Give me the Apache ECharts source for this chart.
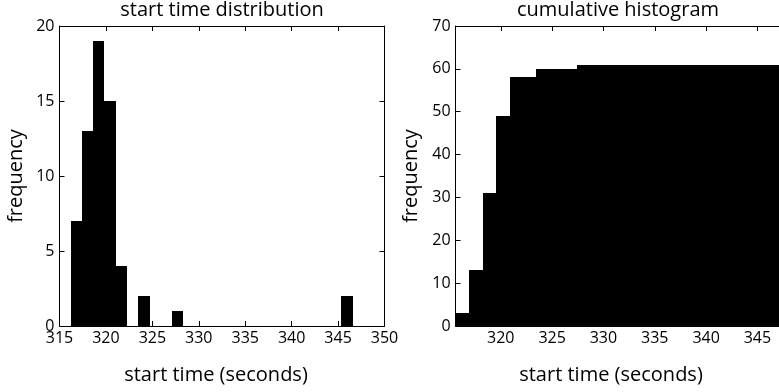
<!DOCTYPE html>
<html>
<head>
<meta charset="utf-8">
<script src="https://cdn.jsdelivr.net/npm/echarts@6/dist/echarts.min.js"></script>
<style>
  html, body { margin: 0; padding: 0; background: #fff; }
  #chart { width: 779px; height: 392px; }
</style>
</head>
<body>
<div id="chart"></div>
<script>
// Start-time histogram: 25 equal-width bins
const distBinStart = 316.2;
const distBinWidth = 1.215;
const distCounts = [7, 13, 19, 15, 4, 0, 2, 0, 0, 1, 0, 0, 0, 0, 0, 0, 0, 0, 0, 0, 0, 0, 0, 0, 2];

// Cumulative histogram: 24 equal-width bins
const cumBinStart = 315.6;
const cumBinWidth = 1.3125;
const cumCounts = [3, 13, 31, 49, 58, 58, 60, 60, 60, 61, 61, 61, 61, 61, 61, 61, 61, 61, 61, 61, 61, 61, 61, 61];

// Axis ranges
const distXRange = [315, 350];
const distYRange = [0, 20];
const cumXRange = [315.6, 347.1];
const cumYRange = [0, 70];

const titles = ['start time distribution', 'cumulative histogram'];
const xLabel = 'start time (seconds)';
const yLabel = 'frequency';

const FONT = '"Open Sans", "DejaVu Sans", sans-serif';

function toBins(start, width, counts) {
  return counts.map((c, i) => [start + i * width, start + (i + 1) * width, c]);
}

// Snap bin edges to whole pixels so neighbouring bars join without seams
function renderBin(params, api) {
  const lo = api.coord([api.value(0), 0]);
  const hi = api.coord([api.value(1), api.value(2)]);
  const x0 = Math.round(lo[0]), x1 = Math.round(hi[0]);
  const y0 = Math.round(lo[1]), y1 = Math.round(hi[1]);
  return {
    type: 'rect',
    shape: { x: x0, y: y1, width: x1 - x0, height: y0 - y1 },
    style: { fill: '#000' }
  };
}

const line = { show: true, onZero: false, lineStyle: { color: '#000', width: 1 } };
const tick = { show: true, inside: true, length: 5, lineStyle: { color: '#000', width: 1 } };
const label = { show: true, color: '#000', fontSize: 16, fontFamily: FONT };

function xAxisPair(grid, range, interval) {
  const base = { type: 'value', gridIndex: grid, min: range[0], max: range[1],
    axisLine: line, axisTick: tick, splitLine: { show: false } };
  if (interval) base.interval = interval;
  return [
    Object.assign({}, base, { position: 'bottom',
      axisLabel: Object.assign({}, label, { margin: 4, showMinLabel: !!interval, showMaxLabel: !!interval }) }),
    Object.assign({}, base, { position: 'top', axisLabel: { show: false } })
  ];
}

function yAxisPair(grid, range, interval) {
  const base = { type: 'value', gridIndex: grid, min: range[0], max: range[1], interval: interval,
    axisLine: line, axisTick: tick, splitLine: { show: false } };
  return [
    Object.assign({}, base, { position: 'left', axisLabel: Object.assign({}, label, { margin: 5 }) }),
    Object.assign({}, base, { position: 'right', axisLabel: { show: false } })
  ];
}

const grids = [
  { left: 59.5, top: 26, width: 325, height: 300 },
  { left: 455.6, top: 26, width: 325, height: 300 }
];

function text(str, x, y, size, rot) {
  return {
    type: 'text', x: x, y: y, rotation: rot || 0,
    style: { text: str, fill: '#000', font: size + 'px ' + FONT, align: 'center', verticalAlign: 'middle' }
  };
}

const option = {
  animation: false,
  backgroundColor: '#fff',
  grid: grids,
  xAxis: [...xAxisPair(0, distXRange, 5), ...xAxisPair(1, cumXRange, null)],
  yAxis: [...yAxisPair(0, distYRange, 5), ...yAxisPair(1, cumYRange, 10)],
  series: [
    { type: 'custom', xAxisIndex: 0, yAxisIndex: 0, clip: true,
      data: toBins(distBinStart, distBinWidth, distCounts),
      encode: { x: [0, 1], y: 2 }, renderItem: renderBin },
    { type: 'custom', xAxisIndex: 2, yAxisIndex: 2, clip: true,
      data: toBins(cumBinStart, cumBinWidth, cumCounts),
      encode: { x: [0, 1], y: 2 }, renderItem: renderBin }
  ],
  graphic: [
    text(titles[0], 222, 10, 20),
    text(titles[1], 618, 10, 20),
    text(xLabel, 216, 375, 20),
    text(xLabel, 611, 375, 20),
    text(yLabel, 16, 176, 20, Math.PI / 2),
    text(yLabel, 411, 176, 20, Math.PI / 2)
  ]
};

const chart = echarts.init(document.getElementById('chart'), null, { renderer: 'canvas' });
chart.setOption(option);
</script>
</body>
</html>
